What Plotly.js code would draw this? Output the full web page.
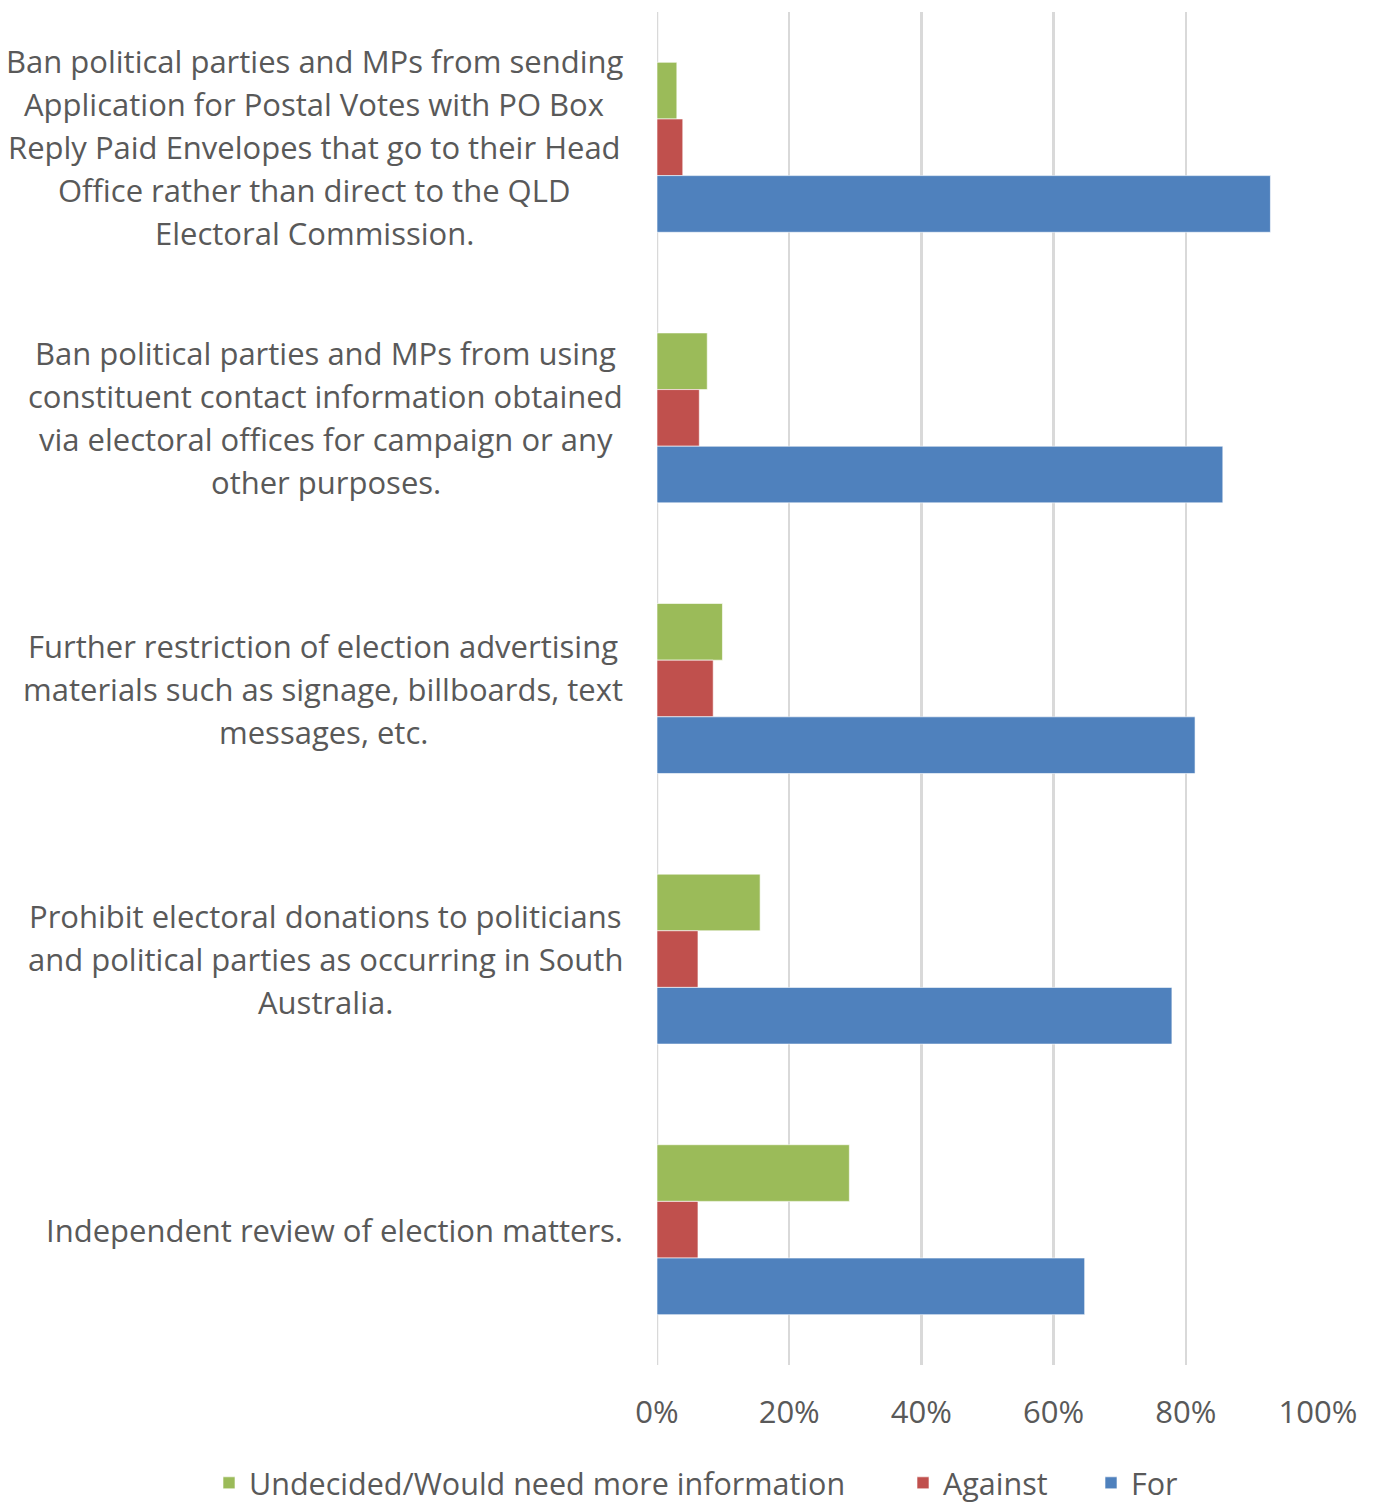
<!DOCTYPE html>
<html>
<head>
<meta charset="utf-8">
<script src="https://cdn.plot.ly/plotly-3.0.1.min.js"></script>
<style>
  html, body { margin: 0; padding: 0; background: #fff; }
  #chart { width: 1374px; height: 1506px; }
</style>
</head>
<body>
<div id="chart"></div>
<script>
// ---- Data ----
const categoryLines = [
  ["Ban political parties and MPs from sending", "Application for Postal Votes with PO Box", "Reply Paid Envelopes that go to their Head", "Office rather than direct to the QLD", "Electoral Commission."],
  ["Ban political parties and MPs from using", "constituent contact information obtained", "via electoral offices for campaign or any", "other purposes."],
  ["Further restriction of election advertising", "materials such as signage, billboards, text", "messages, etc."],
  ["Prohibit electoral donations to politicians", "and political parties as occurring in South", "Australia."],
  ["Independent review of election matters."]
];
const categories = categoryLines.map(l => l.join(" "));
const seriesNames = ["Undecided/Would need more information", "Against", "For"];
const undecided = [0.030, 0.076, 0.099, 0.156, 0.291];
const against   = [0.039, 0.064, 0.085, 0.062, 0.062];
const forVotes  = [0.928, 0.856, 0.814, 0.779, 0.647];
const tickVals  = [0, 0.2, 0.4, 0.6, 0.8, 1.0];
const tickText  = ["0%", "20%", "40%", "60%", "80%", "100%"];

// ---- Styling ----
const colors = ["#9BBB59", "#C0504D", "#4F81BD"];
const FONT = "'Open Sans', Lato, sans-serif";
const textColor = "#595959";
const labelSize = 31;
const legendSize = 30.5;
const W = 1374, H = 1506;
const margin = {l: 657, r: 56, t: 12, b: 141, autoexpand: false};
const plotW = W - margin.l - margin.r;
const plotH = H - margin.t - margin.b;

const legendIds = ["legend", "legend2", "legend3"];
const legendLeftPx = [209, 903, 1091];

const values = [undecided, against, forVotes];
const traces = values.map((v, i) => ({
  type: "bar",
  orientation: "h",
  name: seriesNames[i],
  legend: legendIds[i],
  x: v,
  y: categories,
  marker: {color: colors[i], line: {color: "rgba(255,255,255,0.6)", width: 1}},
  hoverinfo: "x+name"
}));

// measure text to center lines as a block right-aligned at the label edge
const cv = document.createElement("canvas").getContext("2d");
cv.font = labelSize + "px 'Open Sans'";
const rightEdgePx = 623;
const lineSpacing = 43;
const annotations = [];
categoryLines.forEach((lines, ci) => {
  const maxW = Math.max(...lines.map(t => cv.measureText(t).width));
  const centerPx = rightEdgePx - maxW / 2;
  const xPaper = (centerPx - margin.l) / plotW;
  const n = lines.length;
  lines.forEach((t, li) => {
    annotations.push({
      text: t,
      xref: "paper", yref: "y",
      x: xPaper, y: categories[ci],
      xanchor: "center", yanchor: "middle",
      yshift: -(li - (n - 1) / 2) * lineSpacing,
      showarrow: false,
      font: {family: FONT, size: labelSize, color: textColor}
    });
  });
});

const layout = {
  width: W, height: H,
  margin: margin,
  paper_bgcolor: "#ffffff",
  plot_bgcolor: "#ffffff",
  barmode: "group",
  bargap: 0.372,
  bargroupgap: 0,
  showlegend: true,
  xaxis: {
    range: [0, 1],
    tickvals: tickVals,
    ticktext: tickText,
    showgrid: true,
    gridcolor: "#D9D9D9",
    gridwidth: 2.5,
    zeroline: false,
    showline: false,
    ticks: "",
    ticklabelstandoff: 26,
    tickfont: {family: FONT, size: labelSize, color: textColor},
    fixedrange: true
  },
  yaxis: {
    type: "category",
    autorange: "reversed",
    showticklabels: false,
    showgrid: false,
    zeroline: false,
    showline: false,
    ticks: "",
    fixedrange: true
  },
  shapes: [{
    type: "line", xref: "x", yref: "paper",
    x0: 0, x1: 0, y0: 0, y1: 1,
    line: {color: "#D9D9D9", width: 2.5},
    layer: "below"
  }],
  annotations: annotations
};
// one legend per series so each entry sits where the reference places it
const legendY = (H - margin.b - 1483) / plotH;
legendIds.forEach((id, i) => {
  layout[id] = {
    orientation: "h",
    x: (legendLeftPx[i] - margin.l) / plotW, xanchor: "left",
    y: legendY, yanchor: "middle",
    font: {family: FONT, size: legendSize, color: textColor},
    bgcolor: "rgba(0,0,0,0)",
    itemclick: false
  };
});

Plotly.newPlot("chart", traces, layout, {displayModeBar: false, staticPlot: true});
</script>
</body>
</html>
